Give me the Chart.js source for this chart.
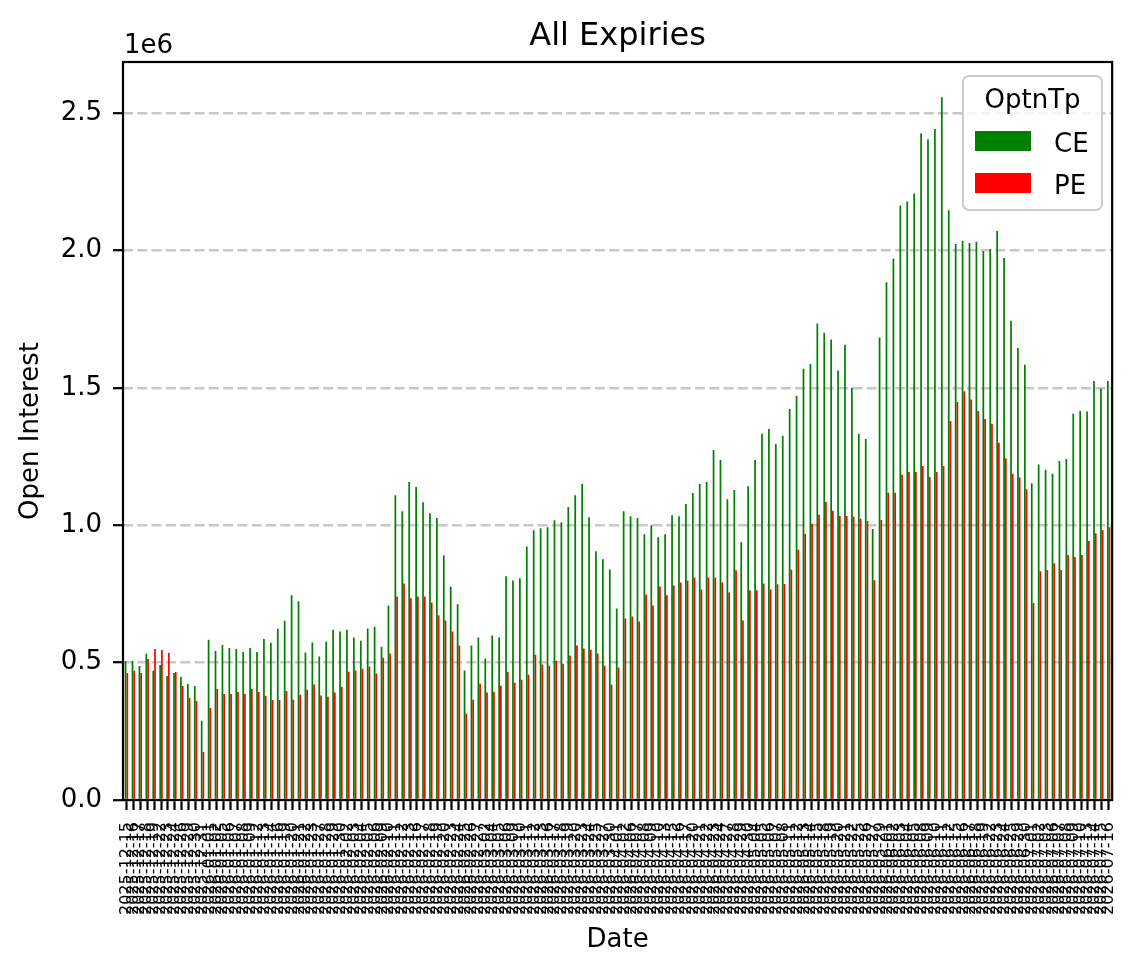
<!DOCTYPE html>
<html>
<head>
<meta charset="utf-8">
<title>All Expiries</title>
<script src="https://cdn.jsdelivr.net/npm/chart.js@4.4.1/dist/chart.umd.min.js"></script>
<style>
    html, body { margin: 0; padding: 0; background: #fff; }
    #wrap { width: 1140px; height: 976px; }
</style>
</head>
<body>
<div id="wrap"><canvas id="oiChart" width="1140" height="976"></canvas></div>
<script>
// trading days, 2025-12-15 .. 2026-07-16
const dates = [
    '2025-12-15','2025-12-16','2025-12-17','2025-12-18','2025-12-19','2025-12-22','2025-12-23','2025-12-24','2025-12-26','2025-12-29','2025-12-30','2025-12-31',
    '2026-01-01','2026-01-02','2026-01-05','2026-01-06','2026-01-07','2026-01-08','2026-01-09','2026-01-12','2026-01-13','2026-01-14','2026-01-16','2026-01-19','2026-01-20','2026-01-21','2026-01-22','2026-01-23','2026-01-27','2026-01-28','2026-01-29','2026-01-30',
    '2026-02-02','2026-02-03','2026-02-04','2026-02-05','2026-02-06','2026-02-09','2026-02-10','2026-02-11','2026-02-12','2026-02-13','2026-02-16','2026-02-17','2026-02-18','2026-02-19','2026-02-20','2026-02-23','2026-02-24','2026-02-25','2026-02-26','2026-02-27',
    '2026-03-02','2026-03-04','2026-03-05','2026-03-06','2026-03-09','2026-03-10','2026-03-11','2026-03-12','2026-03-13','2026-03-16','2026-03-17','2026-03-18','2026-03-19','2026-03-20','2026-03-23','2026-03-24','2026-03-25','2026-03-27','2026-03-30',
    '2026-04-01','2026-04-02','2026-04-06','2026-04-07','2026-04-08','2026-04-09','2026-04-10','2026-04-13','2026-04-15','2026-04-16','2026-04-17','2026-04-20','2026-04-21','2026-04-22','2026-04-23','2026-04-24','2026-04-27','2026-04-28','2026-04-29','2026-04-30',
    '2026-05-04','2026-05-05','2026-05-06','2026-05-07','2026-05-08','2026-05-11','2026-05-12','2026-05-13','2026-05-14','2026-05-15','2026-05-18','2026-05-19','2026-05-20','2026-05-21','2026-05-22','2026-05-25','2026-05-26','2026-05-27','2026-05-29',
    '2026-06-01','2026-06-02','2026-06-03','2026-06-04','2026-06-05','2026-06-08','2026-06-09','2026-06-10','2026-06-11','2026-06-12','2026-06-15','2026-06-16','2026-06-17','2026-06-18','2026-06-19','2026-06-22','2026-06-23','2026-06-24','2026-06-25','2026-06-29','2026-06-30',
    '2026-07-01','2026-07-02','2026-07-03','2026-07-06','2026-07-07','2026-07-08','2026-07-09','2026-07-10','2026-07-13','2026-07-14','2026-07-15','2026-07-16'
];

const ceOI = [
    506000, 506000, 488000, 532000, 470000, 491000, 451000, 462000, 448000, 422000, 415000, 288000,
    583000, 542000, 564000, 553000, 550000, 539000, 553000, 539000, 586000, 572000, 623000, 652000, 745000, 723000, 537000, 573000, 522000, 577000, 620000, 613000,
    620000, 591000, 580000, 624000, 631000, 558000, 708000, 1109000, 1051000, 1157000, 1139000, 1084000, 1044000, 1026000, 891000, 777000, 712000, 471000, 562000, 591000,
    515000, 599000, 591000, 814000, 799000, 807000, 923000, 982000, 989000, 993000, 1018000, 1011000, 1066000, 1109000, 1150000, 1029000, 905000, 876000, 839000,
    697000, 1051000, 1033000, 1026000, 967000, 1000000, 956000, 967000, 1036000, 1033000, 1077000, 1117000, 1150000, 1157000, 1274000, 1237000, 1095000, 1128000, 938000, 1142000,
    1237000, 1333000, 1350000, 1296000, 1326000, 1423000, 1471000, 1570000, 1587000, 1734000, 1701000, 1676000, 1563000, 1657000, 1500000, 1333000, 1314000, 986000, 1683000,
    1884000, 1971000, 2164000, 2178000, 2207000, 2427000, 2405000, 2442000, 2558000, 2146000, 2024000, 2035000, 2027000, 2032000, 1998000, 2005000, 2071000, 1973000, 1744000, 1645000, 1584000,
    1153000, 1221000, 1202000, 1187000, 1234000, 1241000, 1406000, 1416000, 1414000, 1525000, 1498000, 1525000
];

const peOI = [
    462000, 470000, 462000, 513000, 550000, 546000, 535000, 466000, 415000, 371000, 360000, 175000,
    335000, 404000, 386000, 386000, 393000, 386000, 404000, 393000, 379000, 364000, 364000, 397000, 365000, 383000, 401000, 420000, 380000, 376000, 391000, 412000,
    467000, 471000, 478000, 485000, 460000, 518000, 533000, 741000, 788000, 734000, 741000, 741000, 719000, 672000, 653000, 613000, 562000, 314000, 365000, 423000,
    391000, 394000, 416000, 467000, 427000, 438000, 456000, 529000, 493000, 489000, 507000, 496000, 526000, 562000, 551000, 547000, 533000, 489000, 420000,
    482000, 661000, 668000, 650000, 748000, 708000, 777000, 745000, 781000, 792000, 799000, 810000, 766000, 810000, 810000, 792000, 755000, 836000, 653000, 763000,
    763000, 788000, 766000, 785000, 786000, 838000, 911000, 969000, 1005000, 1038000, 1085000, 1053000, 1034000, 1034000, 1031000, 1024000, 1015000, 800000, 1019000,
    1118000, 1118000, 1184000, 1194000, 1194000, 1216000, 1176000, 1194000, 1216000, 1379000, 1449000, 1488000, 1458000, 1416000, 1387000, 1369000, 1300000, 1244000, 1187000, 1175000, 1131000,
    717000, 833000, 837000, 862000, 837000, 892000, 884000, 892000, 943000, 971000, 983000, 993000
];

const yTicks = [0, 500000, 1000000, 1500000, 2000000, 2500000];
const yMax = 2686000;
const seriesNames = ['CE', 'PE'];
const seriesColors = ['#008000', '#ff0000'];

const FONT = "'DejaVu Sans', 'Liberation Sans', sans-serif";

// title, offset text, frame and legend drawn like matplotlib
const decorations = {
    id: 'decorations',
    afterDraw(chart) {
        const { ctx, chartArea: a } = chart;
        ctx.save();

        ctx.strokeStyle = '#000';
        ctx.lineWidth = 2.2;
        ctx.strokeRect(a.left, a.top, a.right - a.left, a.bottom - a.top);

        ctx.fillStyle = '#000';
        ctx.textBaseline = 'alphabetic';
        ctx.font = `32px ${FONT}`;
        ctx.textAlign = 'center';
        ctx.fillText('All Expiries', (a.left + a.right) / 2, 45);

        ctx.font = `26px ${FONT}`;
        ctx.textAlign = 'left';
        ctx.fillText('1e6', a.left + 1, 53);

        // legend box
        const x0 = 963, y0 = 76, w = 139, h = 134, r = 6;
        ctx.beginPath();
        ctx.moveTo(x0 + r, y0);
        ctx.arcTo(x0 + w, y0, x0 + w, y0 + h, r);
        ctx.arcTo(x0 + w, y0 + h, x0, y0 + h, r);
        ctx.arcTo(x0, y0 + h, x0, y0, r);
        ctx.arcTo(x0, y0, x0 + w, y0, r);
        ctx.closePath();
        ctx.fillStyle = 'rgba(255,255,255,0.8)';
        ctx.fill();
        ctx.strokeStyle = '#cccccc';
        ctx.lineWidth = 2;
        ctx.stroke();

        ctx.fillStyle = '#000';
        ctx.textAlign = 'center';
        ctx.fillText('OptnTp', x0 + w / 2, 108);

        ctx.textAlign = 'left';
        seriesNames.forEach((name, i) => {
            const top = 131 + i * 42;
            ctx.fillStyle = seriesColors[i];
            ctx.fillRect(975, top, 56, 20);
            ctx.fillStyle = '#000';
            ctx.fillText(name, 1054, top + 21);
        });

        ctx.restore();
    }
};

new Chart(document.getElementById('oiChart'), {
    type: 'bar',
    data: {
        labels: dates,
        datasets: [
            { label: seriesNames[0], data: ceOI, backgroundColor: seriesColors[0], borderWidth: 0, categoryPercentage: 0.5, barPercentage: 1.0 },
            { label: seriesNames[1], data: peOI, backgroundColor: seriesColors[1], borderWidth: 0, categoryPercentage: 0.5, barPercentage: 1.0 },
        ]
    },
    options: {
        responsive: false,
        animation: false,
        devicePixelRatio: 1,
        layout: { padding: { top: 62, right: 27, left: 0, bottom: 0 } },
        plugins: {
            legend: { display: false },
            title: { display: false },
            tooltip: { enabled: false }
        },
        scales: {
            x: {
                afterFit: s => { s.height = 176; },
                grid: { display: true, drawOnChartArea: false, drawTicks: true, offset: false, tickLength: 10, tickWidth: 2.2, tickColor: '#000' },
                border: { display: false },
                ticks: {
                    autoSkip: false, minRotation: 90, maxRotation: 90, padding: 12,
                    color: '#000', font: { family: FONT, size: 16 }
                },
                title: { display: true, text: 'Date', color: '#000', font: { family: FONT, size: 26 }, padding: { top: 0, bottom: 20 } }
            },
            y: {
                z: 1,
                min: 0,
                max: yMax,
                afterFit: s => { s.width = 123; },
                afterBuildTicks: s => { s.ticks = yTicks.map(v => ({ value: v })); },
                grid: { color: 'rgba(176,176,176,0.7)', lineWidth: 2.4, tickLength: 10, tickWidth: 2.2, tickColor: '#000', tickBorderDash: [] },
                border: { display: false, dash: [10, 4.3] },
                ticks: {
                    padding: 11, color: '#000', font: { family: FONT, size: 26 },
                    callback: v => (v / 1e6).toFixed(1)
                },
                title: { display: true, text: 'Open Interest', color: '#000', font: { family: FONT, size: 26 }, padding: { top: 16, bottom: 0 } }
            }
        }
    },
    plugins: [decorations]
});
</script>
</body>
</html>
